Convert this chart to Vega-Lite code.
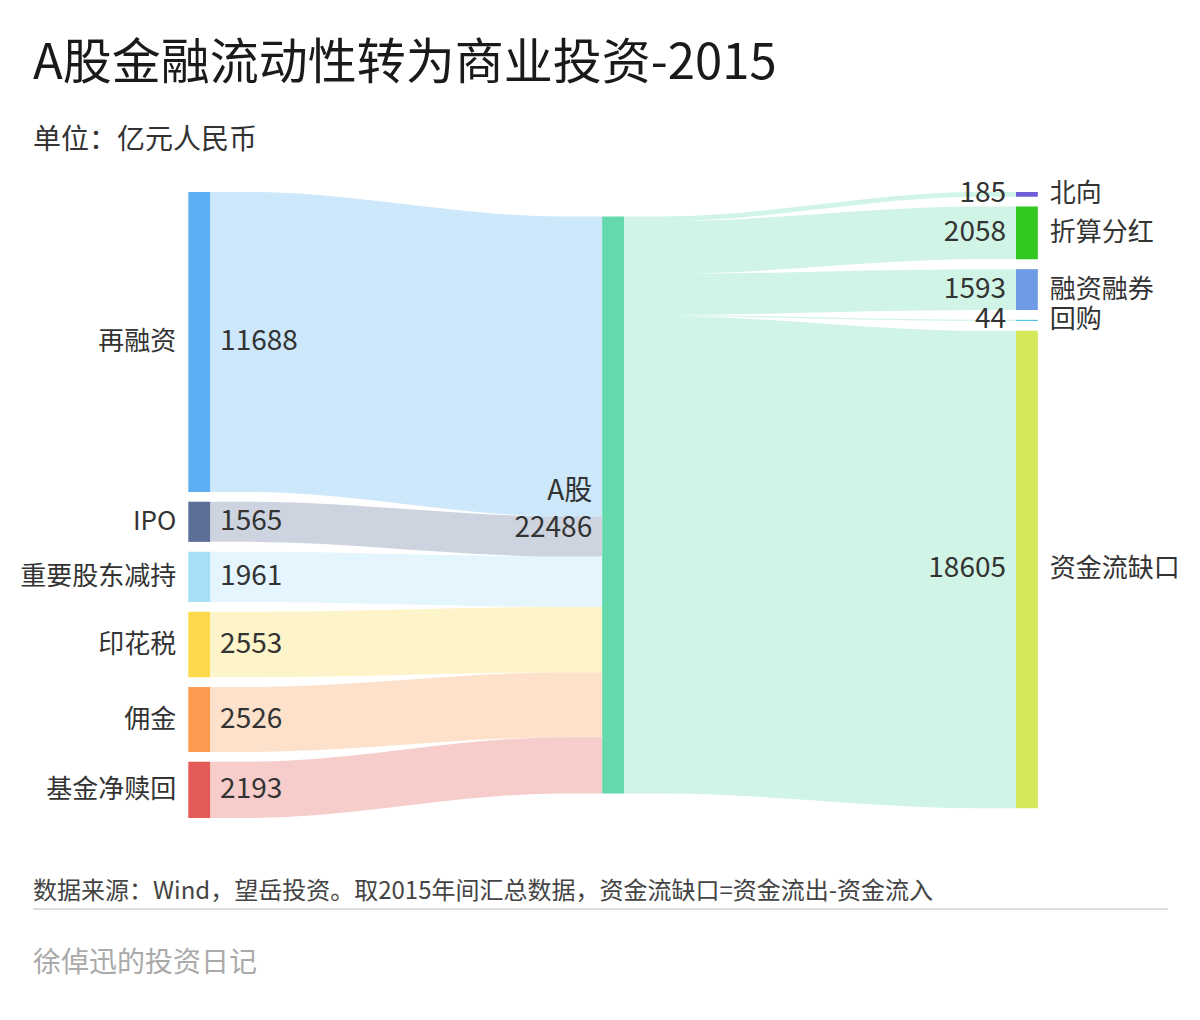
{
  "$schema": "https://vega.github.io/schema/vega-lite/v6.json",
  "padding": {"left": 20, "top": 40, "right": 0, "bottom": 20},
  "background": "white",
  "config": {"view": {"stroke": null}, "font": "Noto Sans CJK SC"},
  "title": {
    "text": "A股金融流动性转为商业投资-2015",
    "subtitle": "单位：亿元人民币",
    "anchor": "start",
    "frame": "group",
    "dx": 13,
    "font": "Noto Sans CJK SC",
    "fontSize": 49,
    "fontWeight": "normal",
    "color": "#1a1a1a",
    "subtitleFont": "Noto Sans CJK SC",
    "subtitleFontSize": 28,
    "subtitleColor": "#333333",
    "subtitlePadding": 38,
    "offset": 17
  },
  "datasets": {
    "links": [
      {"source": "再融资", "target": "A股", "value": 11688, "side": "in"},
      {"source": "IPO", "target": "A股", "value": 1565, "side": "in"},
      {"source": "重要股东减持", "target": "A股", "value": 1961, "side": "in"},
      {"source": "印花税", "target": "A股", "value": 2553, "side": "in"},
      {"source": "佣金", "target": "A股", "value": 2526, "side": "in"},
      {"source": "基金净赎回", "target": "A股", "value": 2193, "side": "in"},
      {"source": "A股", "target": "北向", "value": 185, "side": "out"},
      {"source": "A股", "target": "折算分红", "value": 2058, "side": "out"},
      {"source": "A股", "target": "融资融券", "value": 1593, "side": "out"},
      {"source": "A股", "target": "回购", "value": 44, "side": "out"},
      {"source": "A股", "target": "资金流缺口", "value": 18605, "side": "out"}
    ]
  },
  "spacing": 0,
  "vconcat": [
    {
      "width": 1165,
      "height": 666,
      "data": {"name": "links"},
      "title": {
        "text": "数据来源：Wind，望岳投资。取2015年间汇总数据，资金流缺口=资金流出-资金流入",
        "orient": "bottom",
        "anchor": "start",
        "frame": "group",
        "dx": 13,
        "font": "Noto Sans CJK SC",
        "fontSize": 24,
        "fontWeight": "normal",
        "color": "#444444",
        "offset": 42
      },
      "transform": [
        {"window": [{"op": "row_number", "as": "idx"}], "groupby": ["side"]},
        {"window": [{"op": "sum", "field": "value", "as": "cum"}], "groupby": ["side"], "sort": [{"field": "idx", "order": "ascending"}], "frame": [null, 0]},
        {"joinaggregate": [{"op": "sum", "field": "value", "as": "sideTotal"}, {"op": "count", "as": "sideN"}], "groupby": ["side"]},
        {"calculate": "datum.side === 'in' ? datum.value : 0", "as": "inVal"},
        {"calculate": "datum.sideTotal + (datum.sideN - 1) * 382", "as": "span"},
        {"joinaggregate": [{"op": "max", "field": "span", "as": "maxSpan"}, {"op": "sum", "field": "inVal", "as": "midTotal"}]},
        {"calculate": "(datum.maxSpan - datum.midTotal) / 2", "as": "off"},
        {"calculate": "datum.cum - datum.value + (datum.idx - 1) * 382", "as": "nodeY"},
        {"calculate": "datum.nodeY + datum.value", "as": "nodeY2"},
        {"calculate": "datum.nodeY + datum.value / 2", "as": "nodeMid"},
        {"calculate": "datum.off + datum.cum - datum.value", "as": "midY"},
        {"calculate": "datum.side === 'in' ? datum.nodeY : datum.midY", "as": "sy"},
        {"calculate": "datum.side === 'in' ? datum.midY : datum.nodeY", "as": "ty"},
        {"calculate": "datum.side === 'in' ? datum.source : datum.target", "as": "node"},
        {"calculate": "datum.side === 'in' ? 0 : 2", "as": "col"},
        {"calculate": "datum.col + 0.0527", "as": "colEnd"},
        {"calculate": "datum.side === 'in' ? datum.source : 'A股'", "as": "linkColor"}
      ],
      "layer": [
        {
          "transform": [
            {"calculate": "datum.side === 'in' ? 0.0527 : 1.0527", "as": "xs"},
            {"calculate": "datum.side === 'in' ? 1 : 2", "as": "xe"},
            {"calculate": "datum.xs + 0.1 * (datum.xe - datum.xs)", "as": "xs2"},
            {"calculate": "datum.xe - 0.1 * (datum.xe - datum.xs)", "as": "xe2"},
            {"fold": ["xs", "xs2", "xe2", "xe"], "as": ["k", "xpos"]},
            {"calculate": "(datum.k === 'xs' || datum.k === 'xs2') ? datum.sy : datum.ty", "as": "ylo"},
            {"calculate": "datum.ylo + datum.value", "as": "yhi"}
          ],
          "mark": {"type": "area", "interpolate": "monotone", "opacity": 0.3},
          "encoding": {
            "x": {"field": "xpos", "type": "quantitative", "scale": {"domain": [-0.4067, 2.4083], "nice": false, "zero": false}, "axis": null},
            "y": {"field": "ylo", "type": "quantitative", "stack": null, "scale": {"reverse": true, "nice": false, "zero": false, "padding": 20}, "axis": null},
            "y2": {"field": "yhi"},
            "detail": {"field": "node"},
            "color": {
              "field": "linkColor", "type": "nominal", "legend": null,
              "scale": {
                "domain": ["再融资", "IPO", "重要股东减持", "印花税", "佣金", "基金净赎回", "A股", "北向", "折算分红", "融资融券", "回购", "资金流缺口"],
                "range": ["#5BAFF2", "#5B6F97", "#A7DFF7", "#FDD94B", "#FC9A50", "#E35A57", "#64D9AB", "#6E5FD9", "#33C820", "#6F9BE6", "#4DC1E5", "#D4E85A"]
              }
            }
          }
        },
        {
          "mark": {"type": "rect"},
          "encoding": {
            "x": {"field": "col", "type": "quantitative", "scale": {"domain": [-0.4067, 2.4083], "nice": false, "zero": false}, "axis": null},
            "x2": {"field": "colEnd"},
            "y": {"field": "nodeY", "type": "quantitative", "scale": {"reverse": true, "nice": false, "zero": false, "padding": 20}, "axis": null},
            "y2": {"field": "nodeY2"},
            "color": {
              "field": "node", "type": "nominal", "legend": null,
              "scale": {
                "domain": ["再融资", "IPO", "重要股东减持", "印花税", "佣金", "基金净赎回", "A股", "北向", "折算分红", "融资融券", "回购", "资金流缺口"],
                "range": ["#5BAFF2", "#5B6F97", "#A7DFF7", "#FDD94B", "#FC9A50", "#E35A57", "#64D9AB", "#6E5FD9", "#33C820", "#6F9BE6", "#4DC1E5", "#D4E85A"]
              }
            }
          }
        },
        {
          "transform": [
            {"filter": "datum.side === 'in' && datum.idx === 1"},
            {"calculate": "1", "as": "mx0"},
            {"calculate": "1.0527", "as": "mx1"},
            {"calculate": "datum.off + datum.midTotal", "as": "my1"},
            {"calculate": "'A股'", "as": "mname"}
          ],
          "mark": {"type": "rect"},
          "encoding": {
            "x": {"field": "mx0", "type": "quantitative", "scale": {"domain": [-0.4067, 2.4083], "nice": false, "zero": false}, "axis": null},
            "x2": {"field": "mx1"},
            "y": {"field": "off", "type": "quantitative", "scale": {"reverse": true, "nice": false, "zero": false, "padding": 20}, "axis": null},
            "y2": {"field": "my1"},
            "color": {
              "field": "mname", "type": "nominal", "legend": null,
              "scale": {
                "domain": ["再融资", "IPO", "重要股东减持", "印花税", "佣金", "基金净赎回", "A股", "北向", "折算分红", "融资融券", "回购", "资金流缺口"],
                "range": ["#5BAFF2", "#5B6F97", "#A7DFF7", "#FDD94B", "#FC9A50", "#E35A57", "#64D9AB", "#6E5FD9", "#33C820", "#6F9BE6", "#4DC1E5", "#D4E85A"]
              }
            }
          }
        },
        {
          "transform": [{"filter": "datum.side === 'in'"}],
          "mark": {"type": "text", "align": "right", "baseline": "middle", "dx": -12, "fontSize": 26, "color": "#333333", "font": "Noto Sans CJK SC"},
          "encoding": {
            "x": {"field": "col", "type": "quantitative", "scale": {"domain": [-0.4067, 2.4083], "nice": false, "zero": false}, "axis": null},
            "y": {"field": "nodeMid", "type": "quantitative", "scale": {"reverse": true, "nice": false, "zero": false, "padding": 20}, "axis": null},
            "text": {"field": "node"}
          }
        },
        {
          "transform": [{"filter": "datum.side === 'in'"}],
          "mark": {"type": "text", "align": "left", "baseline": "middle", "dx": 10, "fontSize": 28, "color": "#333333", "font": "Noto Sans CJK SC"},
          "encoding": {
            "x": {"field": "colEnd", "type": "quantitative", "scale": {"domain": [-0.4067, 2.4083], "nice": false, "zero": false}, "axis": null},
            "y": {"field": "nodeMid", "type": "quantitative", "scale": {"reverse": true, "nice": false, "zero": false, "padding": 20}, "axis": null},
            "text": {"field": "value", "format": "d"}
          }
        },
        {
          "transform": [{"filter": "datum.side === 'out'"}],
          "mark": {"type": "text", "align": "right", "baseline": "middle", "dx": -10, "fontSize": 28, "color": "#333333", "font": "Noto Sans CJK SC"},
          "encoding": {
            "x": {"field": "col", "type": "quantitative", "scale": {"domain": [-0.4067, 2.4083], "nice": false, "zero": false}, "axis": null},
            "y": {"field": "nodeMid", "type": "quantitative", "scale": {"reverse": true, "nice": false, "zero": false, "padding": 20}, "axis": null},
            "text": {"field": "value", "format": "d"}
          }
        },
        {
          "transform": [{"filter": "datum.side === 'out'"}],
          "mark": {"type": "text", "align": "left", "baseline": "middle", "dx": 12, "fontSize": 26, "color": "#333333", "font": "Noto Sans CJK SC"},
          "encoding": {
            "x": {"field": "colEnd", "type": "quantitative", "scale": {"domain": [-0.4067, 2.4083], "nice": false, "zero": false}, "axis": null},
            "y": {"field": "nodeMid", "type": "quantitative", "scale": {"reverse": true, "nice": false, "zero": false, "padding": 20}, "axis": null},
            "text": {"field": "node"}
          }
        },
        {
          "transform": [
            {"filter": "datum.side === 'in' && datum.idx === 1"},
            {"calculate": "1", "as": "mx0"},
            {"calculate": "datum.off + datum.midTotal / 2", "as": "mmid"},
            {"calculate": "'A股\\n' + datum.midTotal", "as": "mlabel"}
          ],
          "mark": {"type": "text", "align": "right", "baseline": "middle", "dx": -10, "dy": -13, "fontSize": 28, "lineBreak": "\n", "lineHeight": 37, "color": "#333333", "font": "Noto Sans CJK SC"},
          "encoding": {
            "x": {"field": "mx0", "type": "quantitative", "scale": {"domain": [-0.4067, 2.4083], "nice": false, "zero": false}, "axis": null},
            "y": {"field": "mmid", "type": "quantitative", "scale": {"reverse": true, "nice": false, "zero": false, "padding": 20}, "axis": null},
            "text": {"field": "mlabel"}
          }
        }
      ]
    },
    {
      "width": 1148,
      "height": 0,
      "data": {"values": [{}]},
      "title": {
        "text": "徐倬迅的投资日记",
        "orient": "bottom",
        "anchor": "start",
        "frame": "group",
        "dx": 13,
        "font": "Noto Sans CJK SC",
        "fontSize": 28,
        "fontWeight": "normal",
        "color": "#aaaaaa",
        "offset": 26
      },
      "mark": {"type": "rule", "color": "#dddddd", "strokeWidth": 2, "yOffset": -5},
      "encoding": {
        "x": {"datum": 0, "type": "quantitative", "scale": {"domain": [-0.0115, 1], "nice": false, "zero": false}, "axis": null},
        "x2": {"datum": 1}
      }
    }
  ]
}
